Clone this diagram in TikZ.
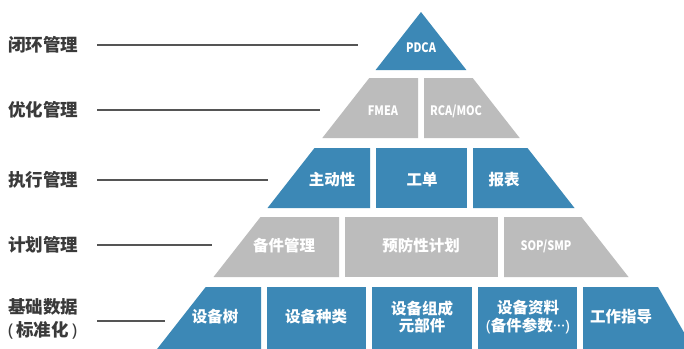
\documentclass[tikz,border=0pt]{standalone}
\usepackage{fontspec}
\setmainfont{Noto Sans CJK SC}
\newfontfamily\latfont{Noto Sans}
\definecolor{pblue}{HTML}{3C88B6}
\definecolor{pgray}{HTML}{BCBCBC}
\definecolor{labgray}{HTML}{3A3A3A}
\definecolor{linegray}{HTML}{555555}
\newcommand{\cond}[1]{\scalebox{0.84}[1]{#1}}
\tikzset{
  bluecell/.style={fill=pblue},
  graycell/.style={fill=pgray},
  celltext/.style={text=white, font=\fontsize{15.5}{17.5}\selectfont\bfseries, align=center, inner sep=0pt},
  latintext/.style={text=white, font=\fontsize{13}{15}\selectfont\bfseries, inner sep=0pt},
  labtext/.style={text=labgray, font=\fontsize{17.5}{23}\selectfont\bfseries, anchor=west, align=left, inner sep=0pt},
  leader/.style={draw=linegray, line width=1.4pt}
}
\begin{document}
\begin{tikzpicture}[x=1pt,y=-1pt]
\clip (0,0) rectangle (684,348);
\fill[white] (0,0) rectangle (684,348);
% row 1
\fill[bluecell] (421,12) -- (466.4,70) -- (375.6,70) -- cycle;
% row 2
\fill[graycell] (369.3,78) -- (418,78) -- (418,138) -- (322.3,138) -- cycle;
\fill[graycell] (424,78) -- (472.7,78) -- (519.7,138) -- (424,138) -- cycle;
% row 3
\fill[bluecell] (314.5,148) -- (370,148) -- (370,208) -- (267.5,208) -- cycle;
\fill[bluecell] (376,148) rectangle (467,208);
\fill[bluecell] (473,148) -- (527.5,148) -- (574.5,208) -- (473,208) -- cycle;
% row 4
\fill[graycell] (260.5,217) -- (339,217) -- (339,277) -- (213.5,277) -- cycle;
\fill[graycell] (345,217) rectangle (498,277);
\fill[graycell] (504,217) -- (581.5,217) -- (628.5,277) -- (504,277) -- cycle;
% row 5
\fill[bluecell] (205.7,287) -- (261,287) -- (261,350) -- (156.3,350) -- cycle;
\fill[bluecell] (267,287) rectangle (366,350);
\fill[bluecell] (372,287) rectangle (472,350);
\fill[bluecell] (478,287) rectangle (577,350);
\fill[bluecell] (583,287) -- (658,287) -- (694,350) -- (583,350) -- cycle;

% cell texts
\node[latintext] (pdca) at (421,48) {\cond{PDCA}};
\node[latintext] (fmea) at (383,111) {\cond{FMEA}};
\node[latintext] (rca) at (456,111) {\cond{RCA/MOC}};
\node[celltext] (zdx) at (332,180) {主动性};
\node[celltext] (gd) at (422,180) {工单};
\node[celltext] (bb) at (504,180) {报表};
\node[celltext] (bjgl) at (284,246) {备件管理};
\node[celltext] (yfx) at (421,246) {预防性计划};
\node[latintext] (sop) at (546,246) {\cond{SOP/SMP}};
\node[celltext] (sbs) at (215,317) {设备树};
\node[celltext] (sbzl) at (316,317) {设备种类};
\node[celltext] (sbzc) at (422,317) {设备组成\\元部件};
\node[celltext] (sbzl2) at (528,317) {设备资料\\{\latfont(}备件参数{\latfont\textperiodcentered\textperiodcentered\textperiodcentered)}};
\node[celltext] (gzzd) at (621,317) {工作指导};

% labels
\node[labtext] (l1) at (8,45) {闭环管理};
\node[labtext] (l2) at (8,110) {优化管理};
\node[labtext] (l3) at (8,180) {执行管理};
\node[labtext] (l4) at (8,245) {计划管理};
\node[labtext] (l5) at (8,319) {基础数据\\{\latfont(}\kern3pt标准化\kern3pt{\latfont)}};

\coordinate (e1) at (358,45);
\coordinate (e2) at (320,110);
\coordinate (e3) at (268,180);
\coordinate (e4) at (212,245);
\coordinate (e5) at (165,321);
\draw[leader] (l1.east -| 97,0) -- (e1);
\draw[leader] (l2.east -| 97,0) -- (e2);
\draw[leader] (l3.east -| 97,0) -- (e3);
\draw[leader] (l4.east -| 97,0) -- (e4);
\draw[leader] (97,321) -- (e5);
\end{tikzpicture}
\end{document}
